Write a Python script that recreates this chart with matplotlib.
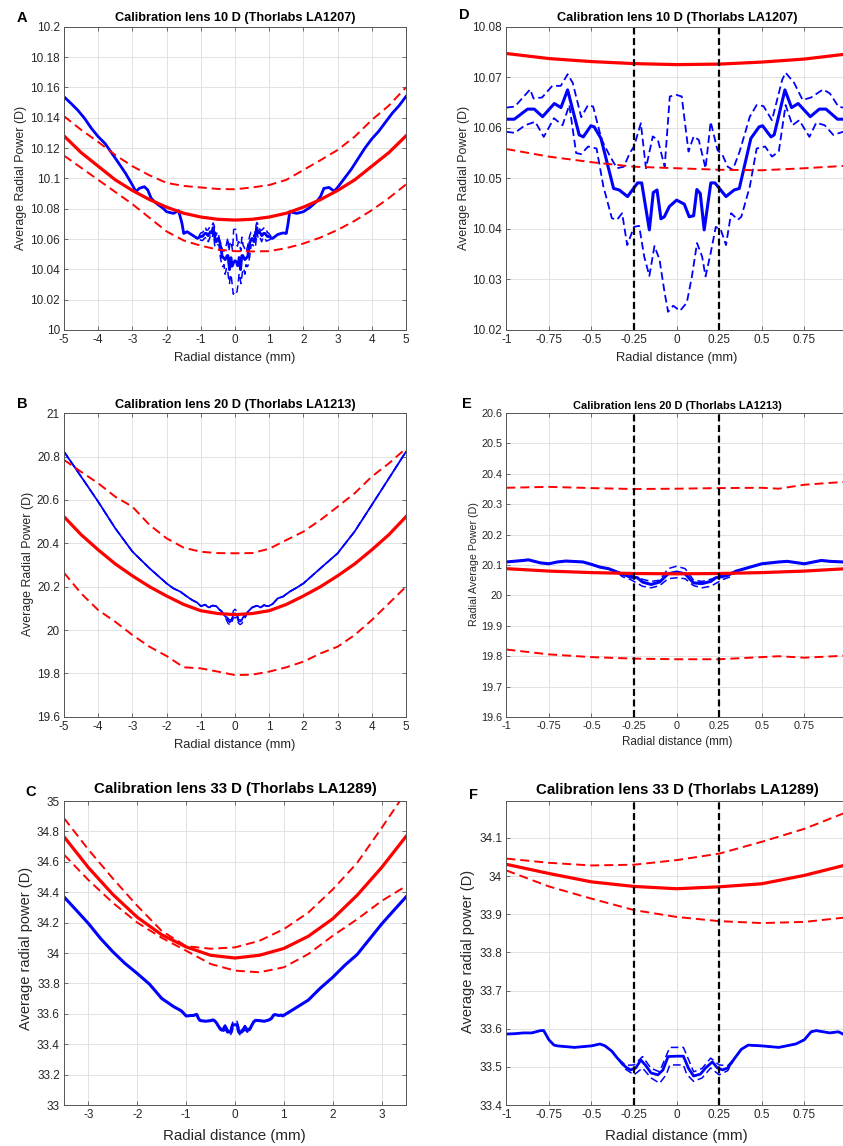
import numpy as np
import matplotlib
matplotlib.use('Agg')
import matplotlib.pyplot as plt

plt.rcParams['font.family'] = ['Liberation Sans', 'DejaVu Sans']
plt.rcParams['axes.unicode_minus'] = False
plt.rcParams['lines.scale_dashes'] = False

# ---------------- data: 10 D lens ----------------
fit_x5 = [-5, -4.5, -4, -3.5, -3, -2.5, -2, -1.5, -1, -0.5, 0, 0.5, 1, 1.5, 2, 2.5, 3, 3.5, 4, 4.5, 5]
a10_fit = [10.128, 10.117, 10.108, 10.099, 10.092, 10.086, 10.081, 10.077, 10.0745, 10.073, 10.0725,
           10.073, 10.0745, 10.077, 10.081, 10.086, 10.092, 10.099, 10.108, 10.117, 10.128]
a10_up = [10.141, 10.132, 10.124, 10.1154, 10.108, 10.102, 10.097, 10.095, 10.094, 10.093, 10.0928,
          10.094, 10.0956, 10.099, 10.1055, 10.112, 10.1187, 10.1275, 10.1385, 10.148, 10.16]
a10_lo = [10.115, 10.107, 10.099, 10.091, 10.083, 10.074, 10.065, 10.059, 10.0556, 10.053, 10.052,
          10.0518, 10.052, 10.054, 10.057, 10.061, 10.066, 10.072, 10.079, 10.087, 10.096]
a10_xout = [-5, -4.8, -4.6, -4.4, -4.2, -4.0, -3.8, -3.6, -3.4, -3.2, -3.0, -2.9, -2.8, -2.65, -2.55,
            -2.45, -2.3, -2.1, -2.0, -1.8, -1.65, -1.55, -1.5, -1.4, -1.25, -1.1,
            1.1, 1.25, 1.4, 1.5, 1.55, 1.6, 1.8, 2.0, 2.2, 2.4, 2.5, 2.6, 2.75, 2.9, 3.0, 3.2, 3.4,
            3.6, 3.8, 4.0, 4.2, 4.4, 4.6, 4.8, 5.0]
a10_out = [10.1538, 10.1495, 10.145, 10.1396, 10.133, 10.1275, 10.123, 10.1165, 10.11, 10.1033, 10.0956,
           10.0912, 10.0934, 10.0945, 10.0923, 10.0868, 10.0835, 10.0802, 10.078, 10.0769, 10.0787,
           10.0703, 10.0637, 10.0648, 10.0626, 10.0604,
           10.0604, 10.063, 10.064, 10.0637, 10.070, 10.078, 10.0769, 10.078, 10.081, 10.085, 10.088,
           10.0934, 10.094, 10.0915, 10.094, 10.100, 10.106, 10.113, 10.120, 10.126, 10.131, 10.137,
           10.143, 10.148, 10.154]

d10_x = [-1, -0.953, -0.875, -0.836, -0.787, -0.718, -0.679, -0.64, -0.572, -0.548, -0.503, -0.484,
         -0.444, -0.37, -0.337, -0.288, -0.229, -0.205, -0.16, -0.137, -0.115, -0.092, -0.072, -0.043,
         0, 0.045, 0.074, 0.1, 0.119, 0.139, 0.162, 0.201, 0.225, 0.29, 0.338, 0.368, 0.436, 0.485,
         0.505, 0.554, 0.573, 0.636, 0.675, 0.714, 0.785, 0.838, 0.877, 0.945, 0.977]
d10_mean = [10.0617, 10.0617, 10.0637, 10.0637, 10.0622, 10.0648, 10.0640, 10.0675, 10.0586, 10.0582,
            10.0604, 10.0602, 10.0579, 10.0480, 10.0477, 10.0464, 10.0491, 10.0491, 10.0398, 10.0472,
            10.0477, 10.0420, 10.0424, 10.0444, 10.0457, 10.0449, 10.0424, 10.0426, 10.0478, 10.0470,
            10.0398, 10.0491, 10.0491, 10.0464, 10.0477, 10.0480, 10.0579, 10.0602, 10.0604, 10.0582,
            10.0586, 10.0675, 10.0640, 10.0648, 10.0622, 10.0637, 10.0637, 10.0617, 10.0617]
d10_upx = [-1, -0.95, -0.86, -0.84, -0.79, -0.73, -0.68, -0.64, -0.61, -0.56, -0.52, -0.49, -0.44,
           -0.39, -0.35, -0.31, -0.275, -0.25, -0.21, -0.18, -0.14, -0.11, -0.07, -0.04, 0, 0.03,
           0.07, 0.1, 0.13, 0.17, 0.2, 0.24, 0.27, 0.3, 0.33, 0.37, 0.43, 0.47, 0.51, 0.56, 0.62,
           0.64, 0.69, 0.74, 0.79, 0.86, 0.9, 0.95, 0.977]
d10_up = [10.0640, 10.0642, 10.0676, 10.0658, 10.0660, 10.0683, 10.0683, 10.0706, 10.0689, 10.0621,
          10.0645, 10.0642, 10.0576, 10.0543, 10.0520, 10.0523, 10.0550, 10.0563, 10.0609, 10.0520,
          10.0583, 10.0576, 10.0523, 10.0662, 10.0665, 10.0662, 10.0553, 10.0583, 10.0576, 10.0520,
          10.0612, 10.0556, 10.0546, 10.0523, 10.0517, 10.0553, 10.0622, 10.0645, 10.0643, 10.0615,
          10.0695, 10.0709, 10.0689, 10.0655, 10.0660, 10.0676, 10.0668, 10.0642, 10.0640]
d10_lox = [-1, -0.95, -0.89, -0.83, -0.78, -0.72, -0.67, -0.63, -0.59, -0.56, -0.52, -0.47, -0.43,
           -0.38, -0.35, -0.32, -0.29, -0.25, -0.22, -0.19, -0.16, -0.13, -0.1, -0.07, -0.05, -0.02,
           0.02, 0.06, 0.09, 0.12, 0.15, 0.17, 0.2, 0.23, 0.26, 0.29, 0.32, 0.36, 0.38, 0.43, 0.47,
           0.52, 0.56, 0.6, 0.64, 0.68, 0.72, 0.78, 0.82, 0.87, 0.92, 0.977]
d10_lo = [10.0592, 10.0590, 10.0605, 10.0612, 10.0582, 10.0619, 10.0605, 10.0645, 10.0550, 10.0548,
          10.0563, 10.0559, 10.0484, 10.0421, 10.0418, 10.0431, 10.0368, 10.0404, 10.0406, 10.0345,
          10.0307, 10.0366, 10.0339, 10.0273, 10.0236, 10.0248, 10.0238, 10.0254, 10.0306, 10.0372,
          10.0345, 10.0306, 10.0352, 10.0404, 10.0398, 10.0368, 10.0431, 10.0418, 10.0424, 10.0484,
          10.0559, 10.0563, 10.0543, 10.0553, 10.0645, 10.0605, 10.0615, 10.0582, 10.0610, 10.0605,
          10.0586, 10.0592]
fit_x1 = [-1, -0.75, -0.5, -0.25, 0, 0.25, 0.5, 0.75, 1.0]
d10_fit = [10.0747, 10.0737, 10.0731, 10.0727, 10.0725, 10.0726, 10.0730, 10.0736, 10.0746]
d10_fitlo = [10.0558, 10.0543, 10.0532, 10.0523, 10.0520, 10.0517, 10.0516, 10.0520, 10.0525]

# ---------------- data: 20 D lens ----------------
b20_fit = [20.523, 20.44, 20.37, 20.305, 20.25, 20.2, 20.157, 20.118, 20.089, 20.076, 20.071,
           20.076, 20.089, 20.118, 20.157, 20.2, 20.25, 20.305, 20.37, 20.44, 20.523]
b20_up = [20.785, 20.73, 20.677, 20.615, 20.569, 20.485, 20.423, 20.38, 20.361, 20.355, 20.354,
          20.355, 20.375, 20.415, 20.454, 20.508, 20.569, 20.631, 20.708, 20.769, 20.838]
b20_lo = [20.264, 20.169, 20.092, 20.038, 19.977, 19.923, 19.88, 19.828, 19.823, 19.808, 19.792,
          19.794, 19.808, 19.828, 19.854, 19.892, 19.923, 19.977, 20.046, 20.123, 20.2]
b20_xout = [-5, -4.5, -4, -3.5, -3, -2.5, -2, -1.8, -1.6, -1.4, -1.25, -1.1,
            1.1, 1.25, 1.4, 1.6, 1.8, 2, 2.5, 3, 3.5, 4, 4.5, 5]
b20_out = [20.823, 20.708, 20.592, 20.469, 20.362, 20.285, 20.215, 20.192, 20.177, 20.154, 20.138,
           20.126, 20.12, 20.146, 20.154, 20.177, 20.195, 20.215, 20.285, 20.354, 20.455, 20.577,
           20.7, 20.823]
e20_x = [-1, -0.9, -0.87, -0.8, -0.75, -0.7, -0.65, -0.55, -0.5, -0.45, -0.4, -0.35, -0.3, -0.27,
         -0.23, -0.2, -0.15, -0.1, -0.05, 0, 0.05, 0.1, 0.15, 0.2, 0.23, 0.27, 0.3, 0.35, 0.4, 0.45,
         0.5, 0.55, 0.6, 0.65, 0.75, 0.85, 0.9, 0.977]
e20_mean = [20.110, 20.115, 20.117, 20.107, 20.104, 20.110, 20.113, 20.110, 20.102, 20.093, 20.088,
            20.077, 20.066, 20.060, 20.058, 20.044, 20.036, 20.044, 20.071, 20.077, 20.071, 20.041,
            20.039, 20.046, 20.058, 20.062, 20.066, 20.080, 20.088, 20.096, 20.104, 20.107, 20.110,
            20.112, 20.104, 20.115, 20.112, 20.110]
e20_dx = [-0.32, -0.27, -0.2, -0.15, -0.1, -0.05, 0, 0.05, 0.1, 0.15, 0.2, 0.27, 0.32]
e20_up = [20.068, 20.066, 20.053, 20.046, 20.05, 20.088, 20.096, 20.088, 20.05, 20.046, 20.053, 20.067, 20.07]
e20_lo = [20.062, 20.052, 20.030, 20.025, 20.032, 20.055, 20.058, 20.055, 20.032, 20.025, 20.030, 20.052, 20.062]
fit_xe = [-1, -0.75, -0.5, -0.25, 0, 0.25, 0.5, 0.6, 0.75, 1.0]
e20_fit = [20.088, 20.08, 20.075, 20.072, 20.071, 20.072, 20.075, 20.077, 20.08, 20.088]
e20_fitup = [20.354, 20.357, 20.353, 20.350, 20.351, 20.353, 20.354, 20.351, 20.364, 20.374]
e20_fitlo = [19.822, 19.806, 19.797, 19.792, 19.790, 19.790, 19.797, 19.800, 19.795, 19.802]

# ---------------- data: 33 D lens ----------------
fit_x35 = [-3.5, -3, -2.5, -2, -1.5, -1, -0.5, 0, 0.5, 1, 1.5, 2, 2.5, 3, 3.5]
c33_fit = [34.765, 34.562, 34.385, 34.235, 34.12, 34.04, 33.985, 33.967, 33.985, 34.03, 34.11,
           34.225, 34.38, 34.562, 34.767]
c33_up = [34.887, 34.68, 34.49, 34.31, 34.145, 34.045, 34.028, 34.037, 34.08, 34.157, 34.266,
          34.418, 34.593, 34.822, 35.06]
c33_lo = [34.647, 34.48, 34.33, 34.20, 34.10, 34.015, 33.928, 33.884, 33.873, 33.906, 33.993,
          34.113, 34.222, 34.342, 34.44]
c33_xout = [-3.5, -3.25, -3, -2.75, -2.5, -2.25, -2, -1.75, -1.5, -1.25, -1.1,
            1.1, 1.25, 1.5, 1.75, 2, 2.25, 2.5, 2.75, 3, 3.25, 3.5]
c33_out = [34.369, 34.282, 34.194, 34.095, 34.008, 33.931, 33.865, 33.795, 33.701, 33.646, 33.62,
           33.61, 33.64, 33.69, 33.77, 33.84, 33.92, 33.99, 34.09, 34.19, 34.28, 34.369]
f33_x = [-1, -0.95, -0.9, -0.85, -0.8, -0.78, -0.75, -0.72, -0.7, -0.6, -0.5, -0.45, -0.42, -0.38,
         -0.35, -0.3, -0.27, -0.24, -0.21, -0.18, -0.15, -0.11, -0.08, -0.05, 0, 0.04, 0.07, 0.1,
         0.14, 0.17, 0.21, 0.24, 0.27, 0.3, 0.34, 0.38, 0.42, 0.5, 0.6, 0.7, 0.75, 0.79, 0.82, 0.9,
         0.95, 0.977]
f33_mean = [33.586, 33.587, 33.589, 33.589, 33.595, 33.595, 33.571, 33.557, 33.555, 33.551, 33.555,
            33.560, 33.555, 33.541, 33.524, 33.500, 33.492, 33.497, 33.518, 33.503, 33.484, 33.479,
            33.492, 33.527, 33.528, 33.528, 33.496, 33.476, 33.481, 33.497, 33.513, 33.497, 33.492,
            33.497, 33.522, 33.546, 33.557, 33.555, 33.551, 33.560, 33.571, 33.592, 33.595, 33.589,
            33.592, 33.586]
f33_dx = [-0.3, -0.25, -0.2, -0.15, -0.1, -0.06, -0.04, 0, 0.04, 0.06, 0.1, 0.15, 0.2, 0.25, 0.3]
f33_up = [33.504, 33.505, 33.527, 33.496, 33.487, 33.53, 33.551, 33.551, 33.551, 33.53, 33.487,
          33.496, 33.523, 33.505, 33.503]
f33_lo = [33.494, 33.479, 33.497, 33.471, 33.457, 33.48, 33.505, 33.505, 33.505, 33.48, 33.462,
          33.471, 33.497, 33.479, 33.49]
f33_fit = [34.031, 34.007, 33.985, 33.973, 33.967, 33.972, 33.98, 34.002, 34.03]
f33_fitup = [34.046, 34.035, 34.028, 34.03, 34.042, 34.059, 34.09, 34.124, 34.168]
f33_fitlo = [34.015, 33.973, 33.941, 33.911, 33.893, 33.882, 33.877, 33.88, 33.892]

# ---------------- ticks / texts ----------------
xt5 = [-5, -4, -3, -2, -1, 0, 1, 2, 3, 4, 5]
xt35 = [-3, -2, -1, 0, 1, 2, 3]
xt1 = [-1, -0.75, -0.5, -0.25, 0, 0.25, 0.5, 0.75]
yt_a = [10, 10.02, 10.04, 10.06, 10.08, 10.1, 10.12, 10.14, 10.16, 10.18, 10.2]
yt_d = [10.02, 10.03, 10.04, 10.05, 10.06, 10.07, 10.08]
yt_b = [19.6, 19.8, 20, 20.2, 20.4, 20.6, 20.8, 21]
yt_e = [19.6, 19.7, 19.8, 19.9, 20, 20.1, 20.2, 20.3, 20.4, 20.5, 20.6]
yt_c = [33, 33.2, 33.4, 33.6, 33.8, 34, 34.2, 34.4, 34.6, 34.8, 35]
yt_f = [33.4, 33.5, 33.6, 33.7, 33.8, 33.9, 34, 34.1]
title10 = 'Calibration lens 10 D (Thorlabs LA1207)'
title20 = 'Calibration lens 20 D (Thorlabs LA1213)'
title33 = 'Calibration lens 33 D (Thorlabs LA1289)'

W, H = 843, 1146
fig = plt.figure(figsize=(W / 100, H / 100), dpi=100)
BLUE = (0, 0, 1)
RED = (1, 0, 0)
INK = '#262626'


def ax_at(l, t, r, b):
    return fig.add_axes([l / W, 1 - b / H, (r - l) / W, (b - t) / H])


def txt(x, y, s, color='k', **kw):
    fig.text(x / W, 1 - y / H, s, ha='center', va='center', color=color, **kw)


def fmt(v):
    return f'{round(v, 6):g}'


def style(ax, xt, yt, xl, yl, fs):
    ax.set_xticks(xt)
    ax.set_yticks(yt)
    ax.set_xticklabels([fmt(v) for v in xt])
    ax.set_yticklabels([fmt(v) for v in yt])
    ax.set_xlim(xl)
    ax.set_ylim(yl)
    ax.grid(True, color='#e2e2e2', lw=0.7)
    ax.set_axisbelow(True)
    for s in ax.spines.values():
        s.set_color('#555555')
        s.set_linewidth(0.7)
    ax.tick_params(direction='in', length=3, width=0.6, colors='#555555', labelcolor=INK,
                   labelsize=fs, top=True, right=True, pad=3)


def combine(xo, yo, xc, yc):
    xo = np.asarray(xo, float)
    yo = np.asarray(yo, float)
    xc = np.asarray(xc, float)
    yc = np.asarray(yc, float)
    left = xo < xc.min()
    right = xo > xc.max()
    return (np.concatenate([xo[left], xc, xo[right]]),
            np.concatenate([yo[left], yc, yo[right]]))


RD = (0, (6.5, 3.6))
BD = (0, (5.5, 2.8))
KD = (0, (5, 2.6))

# ---------- A ----------
ax = ax_at(64, 26.7, 406, 330)
xs, ys = combine(a10_xout, a10_out, d10_x, d10_mean)
xu, yu = combine(a10_xout, a10_out, d10_upx, d10_up)
xl_, yl_ = combine(a10_xout, a10_out, d10_lox, d10_lo)
ax.plot(xu, yu, color=BLUE, lw=1.1, ls=BD)
ax.plot(xl_, yl_, color=BLUE, lw=1.1, ls=BD)
ax.plot(xs, ys, color=BLUE, lw=2.0)
ax.plot(fit_x5, a10_up, color=RED, lw=1.4, ls=RD)
ax.plot(fit_x5, a10_lo, color=RED, lw=1.4, ls=RD)
ax.plot(fit_x5, a10_fit, color=RED, lw=2.3)
style(ax, xt5, yt_a, (-5, 5), (10, 10.2), 8.5)
txt(235, 18.5, title10, fontsize=9.2, fontweight='bold')
txt(20.7, 178, 'Average Radial Power (D)', fontsize=8.9, rotation=90, color=INK)
txt(235, 358, 'Radial distance (mm)', fontsize=9.3, color=INK)
txt(21.7, 18, 'A', fontsize=10.5, fontweight='bold')

# ---------- D ----------
ax = ax_at(506.3, 26.7, 846.9, 330)
ax.plot(d10_upx, d10_up, color=BLUE, lw=1.3, ls=BD)
ax.plot(d10_lox, d10_lo, color=BLUE, lw=1.3, ls=BD)
ax.plot(d10_x, d10_mean, color=BLUE, lw=2.2)
ax.plot(fit_x1, d10_fitlo, color=RED, lw=1.4, ls=RD)
ax.plot(fit_x1, d10_fit, color=RED, lw=2.3)
for v in (-0.25, 0.25):
    ax.axvline(v, color='k', lw=1.6, ls=KD)
style(ax, xt1, yt_d, (-1, 1), (10.02, 10.08), 8.5)
txt(677, 18.5, title10, fontsize=9.2, fontweight='bold')
txt(464.3, 177.5, 'Average Radial Power (D)', fontsize=8.9, rotation=90, color=INK)
txt(676.5, 358, 'Radial distance (mm)', fontsize=9.3, color=INK)
txt(464.3, 15, 'D', fontsize=10.5, fontweight='bold')

# ---------- B ----------
ax = ax_at(64, 413.3, 406, 716.7)
e_ux, e_uy = combine(e20_x, e20_mean, e20_dx, e20_up)
e_lx, e_ly = combine(e20_x, e20_mean, e20_dx, e20_lo)
xs, ys = combine(b20_xout, b20_out, e20_x, e20_mean)
xu, yu = combine(b20_xout, b20_out, e_ux, e_uy)
xl_, yl_ = combine(b20_xout, b20_out, e_lx, e_ly)
ax.plot(xu, yu, color=BLUE, lw=1.0, ls=BD)
ax.plot(xl_, yl_, color=BLUE, lw=1.0, ls=BD)
ax.plot(xs, ys, color=BLUE, lw=1.3)
ax.plot(fit_x5, b20_up, color=RED, lw=1.4, ls=RD)
ax.plot(fit_x5, b20_lo, color=RED, lw=1.4, ls=RD)
ax.plot(fit_x5, b20_fit, color=RED, lw=2.3)
style(ax, xt5, yt_b, (-5, 5), (19.6, 21), 8.5)
txt(235, 405, title20, fontsize=9.2, fontweight='bold')
txt(28, 564, 'Average Radial Power (D)', fontsize=8.9, rotation=90, color=INK)
txt(235, 745, 'Radial distance (mm)', fontsize=9.3, color=INK)
txt(22.7, 404, 'B', fontsize=10.5, fontweight='bold')

# ---------- E ----------
ax = ax_at(506.3, 413, 846.9, 717)
ax.plot(e_ux, e_uy, color=BLUE, lw=1.1, ls=BD)
ax.plot(e_lx, e_ly, color=BLUE, lw=1.1, ls=BD)
ax.plot(e20_x, e20_mean, color=BLUE, lw=2.2)
ax.plot(fit_xe, e20_fitup, color=RED, lw=1.4, ls=RD)
ax.plot(fit_xe, e20_fitlo, color=RED, lw=1.4, ls=RD)
ax.plot(fit_xe, e20_fit, color=RED, lw=2.3)
for v in (-0.25, 0.25):
    ax.axvline(v, color='k', lw=1.6, ls=KD)
style(ax, xt1, yt_e, (-1, 1), (19.6, 20.6), 7.8)
txt(677, 406, title20, fontsize=7.9, fontweight='bold')
txt(473.7, 564, 'Radial Average Power (D)', fontsize=7.7, rotation=90, color=INK)
txt(676.8, 741.7, 'Radial distance (mm)', fontsize=8.4, color=INK)
txt(466.7, 404, 'E', fontsize=10.5, fontweight='bold')

# ---------- C ----------
ax = ax_at(64, 801, 406, 1105)
f_ux, f_uy = combine(f33_x, f33_mean, f33_dx, f33_up)
f_lx, f_ly = combine(f33_x, f33_mean, f33_dx, f33_lo)
xs, ys = combine(c33_xout, c33_out, f33_x, f33_mean)
xu, yu = combine(c33_xout, c33_out, f_ux, f_uy)
xl_, yl_ = combine(c33_xout, c33_out, f_lx, f_ly)
ax.plot(xu, yu, color=BLUE, lw=1.1, ls=BD)
ax.plot(xl_, yl_, color=BLUE, lw=1.1, ls=BD)
ax.plot(xs, ys, color=BLUE, lw=2.2)
ax.plot(fit_x35, c33_up, color=RED, lw=1.4, ls=RD)
ax.plot(fit_x35, c33_lo, color=RED, lw=1.4, ls=RD)
ax.plot(fit_x35, c33_fit, color=RED, lw=2.3)
style(ax, xt35, yt_c, (-3.5, 3.5), (33, 35), 8.5)
txt(235, 789.3, title33, fontsize=10.8, fontweight='bold')
txt(26, 948, 'Average radial power (D)', fontsize=10.5, rotation=90, color=INK)
txt(234.7, 1136, 'Radial distance (mm)', fontsize=10.9, color=INK)
txt(30.7, 791.7, 'C', fontsize=10.5, fontweight='bold')

# ---------- F ----------
ax = ax_at(506.3, 801, 846.9, 1105)
ax.plot(f_ux, f_uy, color=BLUE, lw=1.1, ls=BD)
ax.plot(f_lx, f_ly, color=BLUE, lw=1.1, ls=BD)
ax.plot(f33_x, f33_mean, color=BLUE, lw=2.0)
ax.plot(fit_x1, f33_fitup, color=RED, lw=1.4, ls=RD)
ax.plot(fit_x1, f33_fitlo, color=RED, lw=1.4, ls=RD)
ax.plot(fit_x1, f33_fit, color=RED, lw=2.3)
for v in (-0.25, 0.25):
    ax.axvline(v, color='k', lw=1.6, ls=KD)
style(ax, xt1, yt_f, (-1, 1), (33.4, 34.197), 8.5)
txt(677, 790, title33, fontsize=10.8, fontweight='bold')
txt(467.7, 951.7, 'Average radial power (D)', fontsize=10.5, rotation=90, color=INK)
txt(676.5, 1136, 'Radial distance (mm)', fontsize=10.9, color=INK)
txt(473.7, 795, 'F', fontsize=10.5, fontweight='bold')

fig.savefig('out.png', dpi=100)
